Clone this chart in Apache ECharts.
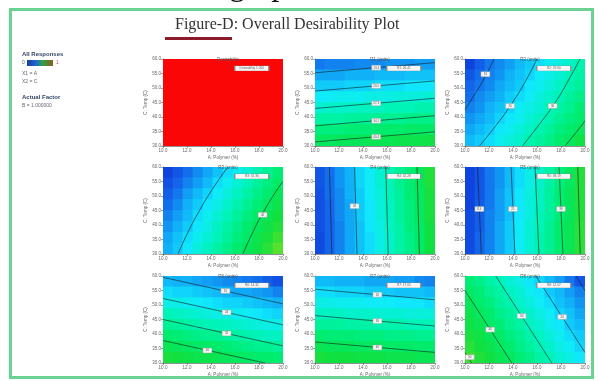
<!DOCTYPE html>
<html><head><meta charset="utf-8">
<script src="https://cdn.jsdelivr.net/npm/echarts@6/dist/echarts.min.js"></script>
<style>html,body{margin:0;padding:0;background:#fff;}#c{width:598px;height:381px;filter:blur(0.45px);}</style>
</head><body><div id="c"></div>
<script>
// ---------- data ----------
const plotTitles = ['Desirability','R1 (units)','R2 (units)','R3 (units)','R4 (units)','R5 (units)','R6 (units)','R7 (units)','R8 (units)'];
const flagTexts = ['Desirability 1.000','R1: 26.41','R2: 29.80','R3: 31.36','R4: 42.28','R5: 38.19','R6: 14.32','R7: 17.65','R8: 12.07'];
const xTickLabels = ['10.0','12.0','14.0','16.0','18.0','20.0'];
const yTickLabels = ['30.0','35.0','40.0','45.0','50.0','55.0','60.0'];
const xAxisName = 'A: Polymer (%)';
const yAxisName = 'C: Temp (C)';

// response fields: rows top -> bottom, 12 columns left -> right
const desirability = [
 [1,1,1,1,1,1,1,1,1,1,1,1],[1,1,1,1,1,1,1,1,1,1,1,1],[1,1,1,1,1,1,1,1,1,1,1,1],[1,1,1,1,1,1,1,1,1,1,1,1],
 [1,1,1,1,1,1,1,1,1,1,1,1],[1,1,1,1,1,1,1,1,1,1,1,1],[1,1,1,1,1,1,1,1,1,1,1,1],[1,1,1,1,1,1,1,1,1,1,1,1]];
const r1 = [
 [10,11,11,11,12,12,12,13,13,13,14,14],
 [15,15,15,16,16,16,17,17,17,18,18,18],
 [19,19,19,20,20,20,21,21,21,22,22,22],
 [23,23,24,24,24,25,25,25,26,26,26,27],
 [27,28,28,28,29,29,29,30,30,30,31,31],
 [32,32,32,33,33,33,34,34,34,35,35,35],
 [36,36,36,37,37,37,38,38,38,39,39,39],
 [40,40,41,41,41,42,42,42,43,43,43,44]];
const r2 = [
 [3,7,10,12,14,17,19,21,24,26,28,31],
 [6,9,11,13,16,18,20,23,25,27,30,32],
 [8,10,12,15,17,19,22,24,26,29,31,33],
 [9,12,14,16,19,21,23,26,28,30,33,35],
 [11,13,16,18,20,23,25,27,30,32,34,37],
 [13,15,17,20,22,24,27,29,31,34,36,38],
 [15,17,19,22,24,26,29,31,33,36,38,40],
 [17,19,21,24,26,28,31,33,35,38,40,44]];
const r3 = [
 [3,6,9,12,15,18,21,24,27,31,34,37],
 [5,8,11,14,17,21,24,27,30,33,36,39],
 [7,10,14,17,20,23,26,29,32,35,38,41],
 [9,12,16,19,22,25,28,31,34,37,40,43],
 [11,14,17,21,24,27,30,33,36,39,42,45],
 [13,16,19,22,25,29,32,35,38,41,44,47],
 [15,18,21,24,27,30,33,36,39,43,46,50],
 [16,19,22,26,29,32,35,38,41,44,48,53]];
const r4 = [
 [6,9,13,16,20,23,27,30,34,37,41,47],
 [6,9,13,16,20,23,27,30,34,37,41,47],
 [5,9,12,16,19,23,26,30,33,37,40,46],
 [5,8,12,15,19,22,26,29,33,36,40,46],
 [5,8,12,15,19,22,26,29,33,36,40,46],
 [5,8,11,15,18,22,25,29,32,36,39,45],
 [4,8,11,15,18,21,25,28,32,35,39,45],
 [4,8,11,15,18,21,25,28,32,35,39,45]];
const r5 = [
 [3,6,10,13,17,21,25,28,32,36,40,47],
 [3,6,10,13,17,21,25,28,32,36,40,47],
 [3,6,10,14,18,22,26,29,33,37,41,47],
 [3,7,10,14,18,22,26,29,33,37,41,47],
 [4,7,11,14,18,22,26,30,33,37,41,47],
 [4,7,11,15,19,23,27,30,34,38,42,48],
 [4,8,11,15,19,23,27,31,34,38,42,48],
 [4,8,11,15,19,23,27,31,34,38,42,48]];
const r6 = [
 [17,16,16,15,14,13,12,11,10,9,7,5],
 [21,20,20,19,18,17,16,15,15,14,13,11],
 [25,25,24,23,22,21,20,20,19,18,17,16],
 [30,29,28,27,26,25,25,24,23,22,21,20],
 [34,33,32,31,30,30,29,28,27,26,25,25],
 [38,37,36,35,34,34,33,32,31,30,29,29],
 [42,41,40,39,39,38,37,36,35,34,34,33],
 [46,45,44,43,43,42,41,40,39,38,38,37]];
const r7 = [
 [17,17,16,16,16,15,15,15,14,14,12,11],
 [21,21,20,20,20,19,19,19,18,18,18,17],
 [25,25,24,24,24,23,23,23,22,22,22,21],
 [29,29,29,28,28,28,27,27,27,26,26,26],
 [33,33,33,32,32,32,31,31,31,30,30,30],
 [38,37,37,37,36,36,36,35,35,35,34,34],
 [42,41,41,41,40,40,40,39,39,39,38,38],
 [46,45,45,45,44,44,44,43,43,43,42,42]];
const r8 = [
 [37,35,32,30,27,25,22,20,17,14,10,6],
 [39,37,34,32,29,27,24,22,19,17,14,11],
 [41,38,36,33,31,28,26,23,21,18,16,13],
 [43,40,38,35,33,30,28,25,23,20,18,15],
 [44,42,39,37,34,32,29,27,24,22,19,17],
 [46,44,41,39,36,34,31,29,26,24,21,19],
 [48,45,43,40,38,35,33,30,28,25,23,20],
 [50,47,45,42,40,37,35,32,30,27,25,22]];

// contour lines (axis units: x 0..5, y 0..6)
const desirabilityContours = [];
const r1Contours = [
 [[0,5.05],[2.5,5.4],[5,5.75]],
 [[0,3.79],[2.5,4.14],[5,4.49]],
 [[0,2.59],[2.5,2.94],[5,3.29]],
 [[0,1.39],[2.5,1.74],[5,2.09]],
 [[0,0.28],[2.5,0.63],[5,0.98]]];
const r2Contours = [
 [[0,2.5],[0.19,3],[0.75,4.5],[1.21,6]],
 [[0.6,0],[1.33,1.5],[1.98,3],[2.53,4.5],[3.0,6]],
 [[2.39,0],[3.1,1.5],[3.76,3],[4.3,4.5],[4.79,6]],
 [[4.17,0],[4.9,1.5],[5,1.75]]];
const r3Contours = [
 [[0.625,0],[1.04,1.5],[1.52,3],[2.07,4.5],[2.7,6]],
 [[3.33,0],[3.74,1.5],[4.22,3],[4.78,4.5],[5,5.0]]];
const r4Contours = [
 [[0.7,0],[0.6,6]],
 [[1.75,0],[1.65,6]],
 [[3.05,0],[2.95,6]],
 [[4.35,0],[4.25,6]]];
const r5Contours = [
 [[0.68,0],[0.52,6]],
 [[2.08,0],[1.92,6]],
 [[3.08,0],[2.92,6]],
 [[4.08,0],[3.92,6]],
 [[4.8,0],[4.7,6]]];
const r6Contours = [
 [[0,5.91],[5,4.08]],
 [[0,4.45],[5,2.63]],
 [[0,3.0],[5,1.18]],
 [[0,1.55],[4.25,0]]];
const r7Contours = [
 [[0,5.09],[5,4.36]],
 [[0,3.27],[5,2.55]],
 [[0,1.45],[5,0.73]]];
const r8Contours = [
 [[0,0.73],[0.28,0]],
 [[0,5.0],[1.95,0]],
 [[1.28,6],[3.62,0]],
 [[2.95,6],[5,0.73]],
 [[4.62,6],[5,5.0]]];

// contour label boxes: [x, y, text]
const desirabilityLabels = [];
const r1Labels = [[2.55,5.4,'13.4'],[2.55,4.14,'20.5'],[2.55,2.94,'27.3'],[2.55,1.74,'34.1'],[2.55,0.63,'40.4']];
const r2Labels = [[0.85,4.95,'10'],[1.88,2.76,'20'],[3.65,2.76,'30']];
const r3Labels = [[4.15,2.7,'40']];
const r4Labels = [[1.65,3.3,'20']];
const r5Labels = [[0.6,3.1,'8.4'],[2.0,3.1,'21'],[4.0,3.1,'39']];
const r6Labels = [[2.6,4.97,'16'],[2.65,3.49,'24'],[2.65,2.04,'32'],[1.85,0.86,'40']];
const r7Labels = [[2.6,4.71,'20'],[2.6,2.89,'30'],[2.6,1.07,'40']];
const r8Labels = [[0.2,0.4,'50'],[1.05,2.3,'40'],[2.36,3.24,'30'],[4.05,3.18,'20']];

const fields = [desirability,r1,r2,r3,r4,r5,r6,r7,r8];
const contourSets = [desirabilityContours,r1Contours,r2Contours,r3Contours,r4Contours,r5Contours,r6Contours,r7Contours,r8Contours];
const labelSets = [desirabilityLabels,r1Labels,r2Labels,r3Labels,r4Labels,r5Labels,r6Labels,r7Labels,r8Labels];
const flagPos = [3.7, 5.35];

// ---------- layout ----------
const colLeft = [163, 315, 465];
const rowTop = [59, 167, 276];
const plotW = 120, plotH = 87;
const xMax = 5, yMax = 6;

const chart = echarts.init(document.getElementById('c'), null, {renderer:'canvas'});
const grids = [], xAxes = [], yAxes = [], series = [], titles = [];
const tiny = {fontSize:4.5, color:'#666', fontFamily:'Arial'};

titles.push({text:'Figure-D: Overall Desirability Plot', left:170, top:12,
  textStyle:{fontFamily:'"Liberation Serif", serif', fontSize:16, fontWeight:'normal', color:'#333'}});

function cellRender(params, api){
  const nC = api.value(3), nR = api.value(4);
  const c = api.coord([api.value(0), api.value(1)]);
  const s = api.size([xMax/nC, yMax/nR]);
  return {type:'rect', shape:{x:c[0]-s[0]/2-0.4, y:c[1]-s[1]/2-0.4, width:s[0]+0.8, height:s[1]+0.8},
          style:{fill:api.visual('color')}};
}

const fieldSeriesIdx = [];
for (let p=0;p<9;p++){
  const c = p%3, r = Math.floor(p/3);
  const left = colLeft[c], top = rowTop[r];
  grids.push({left:left, top:top, width:plotW, height:plotH, containLabel:false});
  xAxes.push({type:'value', gridIndex:p, position:'bottom', min:0, max:xMax, interval:1,
    axisLine:{lineStyle:{color:'#444', width:0.6}}, axisTick:{length:2, lineStyle:{color:'#444', width:0.5}},
    splitLine:{show:false},
    axisLabel:Object.assign({margin:2, formatter:v=>xTickLabels[Math.round(v)]}, tiny),
    name:xAxisName, nameLocation:'middle', nameGap:9, nameTextStyle:tiny});
  yAxes.push({type:'value', gridIndex:p, position:'left', min:0, max:yMax, interval:1,
    axisLine:{show:true, lineStyle:{color:'#444', width:0.6}}, axisTick:{show:true, length:2, lineStyle:{color:'#444', width:0.5}},
    splitLine:{show:false},
    axisLabel:Object.assign({margin:2, formatter:v=>yTickLabels[Math.round(v)]}, tiny),
    name:yAxisName, nameLocation:'middle', nameGap:13, nameTextStyle:tiny});
  titles.push({text:plotTitles[p], left:left+plotW/2, top:top-7, textAlign:'center',
    textStyle:{fontSize:4.5, fontWeight:'normal', color:'#555', fontFamily:'Arial'}});

  const f = fields[p], nR = f.length, nC = f[0].length;
  const data = [];
  f.forEach((row,ri)=>row.forEach((v,ci)=>data.push([(ci+0.5)*xMax/nC, (nR-1-ri+0.5)*yMax/nR, v, nC, nR])));
  fieldSeriesIdx.push(series.length);
  series.push({type:'custom', xAxisIndex:p, yAxisIndex:p, data:data, z:1, silent:true,
    encode:{x:0, y:1}, renderItem:cellRender, clip:true});
  contourSets[p].forEach(line=>{
    series.push({type:'line', xAxisIndex:p, yAxisIndex:p, data:line, smooth:true,
      showSymbol:false, z:3, lineStyle:{color:'#1a1a1a', width:0.75, opacity:0.8}, silent:true});
  });
  series.push({type:'scatter', xAxisIndex:p, yAxisIndex:p, z:4, silent:true,
    data:labelSets[p].map(d=>({value:[d[0],d[1]], label:{formatter:d[2]}})),
    symbol:'rect', symbolSize:[9,5], itemStyle:{color:'#f4f4f4', borderColor:'#999', borderWidth:0.4, opacity:1},
    label:{show:true, position:'inside', fontSize:3, color:'#555'}});
  series.push({type:'scatter', xAxisIndex:p, yAxisIndex:p, z:5, silent:true,
    data:[{value:flagPos, label:{formatter:flagTexts[p]}}],
    symbol:'rect', symbolSize:[34,5], itemStyle:{color:'#f6f6f6', borderColor:'#888', borderWidth:0.5, opacity:1},
    label:{show:true, position:'inside', fontSize:3.2, color:'#666'}});
}

const option = {
  animation:false,
  backgroundColor:'#ffffff',
  title:titles,
  grid:grids, xAxis:xAxes, yAxis:yAxes,
  visualMap:[
    {type:'continuous', show:false, min:0, max:60, dimension:2, seriesIndex:fieldSeriesIdx.slice(1),
     inRange:{color:['#0a30d8','#1460e8','#10a8f6','#10eafc','#00f4b8','#00ec70','#10e040','#50e030','#a8e840']}},
    {type:'continuous', show:false, min:0, max:1, dimension:2, seriesIndex:[fieldSeriesIdx[0]],
     inRange:{color:['#fb0606','#fb0606']}}
  ],
  graphic:[
    {type:'rect', shape:{x:10.5, y:9.5, width:582, height:368}, style:{fill:'none', stroke:'#6ad394', lineWidth:3}, z:100},
    {type:'text', x:229, y:3, style:{text:'graph', font:'33px "Liberation Serif"', fill:'#111', verticalAlign:'bottom'}, z:100},
    {type:'line', shape:{x1:165, y1:38.5, x2:232, y2:38.5}, style:{stroke:'#8b1a2a', lineWidth:3}, z:100},
    {type:'text', x:22, y:51, style:{text:'All Responses', font:'bold 6px Arial', fill:'#334466'}, z:100},
    {type:'text', x:22, y:60.5, style:{text:'0', font:'5px Arial', fill:'#556'}, z:100},
    {type:'rect', shape:{x:27, y:60, width:26, height:6},
     style:{fill:new echarts.graphic.LinearGradient(0,0,1,0,[{offset:0,color:'#1c3c9c'},{offset:0.35,color:'#1e6ad0'},{offset:0.6,color:'#2ea048'},{offset:1,color:'#8a6020'}])}, z:100},
    {type:'text', x:56, y:60.5, style:{text:'1', font:'5px Arial', fill:'#c55'}, z:100},
    {type:'text', x:22, y:71, style:{text:'X1 = A', font:'5px Arial', fill:'#667'}, z:100},
    {type:'text', x:22, y:79, style:{text:'X2 = C', font:'5px Arial', fill:'#667'}, z:100},
    {type:'text', x:22, y:94, style:{text:'Actual Factor', font:'bold 6px Arial', fill:'#334466'}, z:100},
    {type:'text', x:22, y:103.5, style:{text:'B = 1.000000', font:'5px Arial', fill:'#667'}, z:100}
  ],
  series:series
};
chart.setOption(option);
</script></body></html>
